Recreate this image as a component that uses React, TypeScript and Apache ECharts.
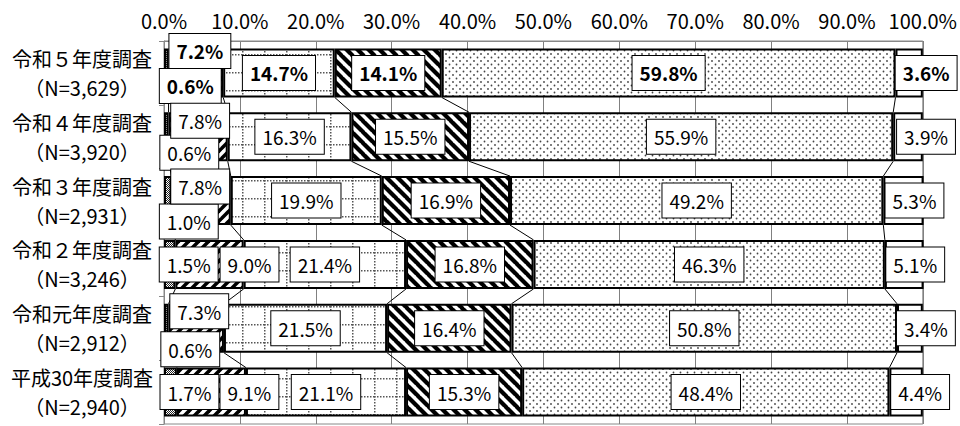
import React, { useEffect, useRef } from 'react';
import * as echarts from 'echarts';

const categories = [
  '令和５年度調査\n（N=3,629）',
  '令和４年度調査\n（N=3,920）',
  '令和３年度調査\n（N=2,931）',
  '令和２年度調査\n（N=3,246）',
  '令和元年度調査\n（N=2,912）',
  '平成30年度調査\n（N=2,940）',
];

const seg1 = [0.6, 0.6, 1.0, 1.5, 0.6, 1.7];
const seg2 = [7.2, 7.8, 7.8, 9.0, 7.3, 9.1];
const seg3 = [14.7, 16.3, 19.9, 21.4, 21.5, 21.1];
const seg4 = [14.1, 15.5, 16.9, 16.8, 16.4, 15.3];
const seg5 = [59.8, 55.9, 49.2, 46.3, 50.8, 48.4];
const seg6 = [3.6, 3.9, 5.3, 5.1, 3.4, 4.4];

const xMin = 0;
const xMax = 100;
const xInterval = 10;

const segments = [seg1, seg2, seg3, seg4, seg5, seg6];

// label placement (style only)
const seg1Offsets = [[24, 13], [23, 16], [21, 21], [19, 0], [24, 21], [19, 0]];
const seg2Offsets = [[4, -22], [2, -16], [-1, -14], [40, 0], [3, -17], [38, 0]];
const seg6Offsets = [[17, 0], [18, 0], [11, 0], [11, 0], [16, 0], [14, 0]];
const zeroOffsets = [[0, 0], [0, 0], [0, 0], [0, 0], [0, 0], [0, 0]];
const labelOffsets = [seg1Offsets, seg2Offsets, zeroOffsets, zeroOffsets, zeroOffsets, seg6Offsets];

const BAR_WIDTH = 49;
const FONT = '"Noto Sans CJK JP", "Noto Sans", sans-serif';

function makeCanvas(w: number, h: number, draw: (ctx: CanvasRenderingContext2D) => void) {
  const c = document.createElement('canvas');
  c.width = w;
  c.height = h;
  const ctx = c.getContext('2d')!;
  ctx.fillStyle = '#fff';
  ctx.fillRect(0, 0, w, h);
  draw(ctx);
  return c;
}

function makePatterns() {
  const p1 = makeCanvas(4, 4, (ctx) => {
    ctx.fillStyle = '#222';
    for (let x = 0; x < 4; x++) for (let y = 0; y < 4; y++) if ((x + y) % 2 === 0) ctx.fillRect(x, y, 1, 1);
  });
  const p2 = makeCanvas(10, 10, (ctx) => {
    ctx.strokeStyle = '#000';
    ctx.lineWidth = 3.6;
    for (const x0 of [-10, 0, 10]) {
      ctx.beginPath();
      ctx.moveTo(x0 - 1, 11);
      ctx.lineTo(x0 + 11, -1);
      ctx.stroke();
    }
  });
  const p3 = makeCanvas(22, 18, (ctx) => {
    ctx.fillStyle = '#555';
    for (let y = 0; y < 18; y += 3) ctx.fillRect(0, y, 1.5, 1.5);
    for (let x = 0; x < 22; x += 3) ctx.fillRect(x, 0, 1.5, 1.5);
  });
  const p4 = makeCanvas(11, 11, (ctx) => {
    ctx.strokeStyle = '#000';
    ctx.lineWidth = 4.2;
    for (const x0 of [-11, 0, 11]) {
      ctx.beginPath();
      ctx.moveTo(x0 - 1, -1);
      ctx.lineTo(x0 + 12, 12);
      ctx.stroke();
    }
  });
  const p5 = makeCanvas(7, 7, (ctx) => {
    ctx.fillStyle = '#444';
    ctx.beginPath();
    ctx.arc(1.5, 1.5, 0.9, 0, Math.PI * 2);
    ctx.fill();
    ctx.beginPath();
    ctx.arc(5, 5, 0.9, 0, Math.PI * 2);
    ctx.fill();
  });
  return [p1, p2, p3, p4, p5, null];
}

function cumulative(row: number) {
  const out: number[] = [];
  let s = 0;
  for (let k = 0; k < segments.length - 1; k++) {
    s += segments[k][row];
    out.push(s);
  }
  return out;
}

export default function App() {
  const ref = useRef<HTMLDivElement>(null);

  useEffect(() => {
    document.body.style.margin = '0';
    const chart = echarts.init(ref.current!, null, { renderer: 'svg' });
    const patterns = makePatterns();

    const barSeries = segments.map((seg, si) => ({
      type: 'bar',
      name: `区分${si + 1}`,
      stack: 'total',
      barWidth: BAR_WIDTH,
      z: 2,
      itemStyle: {
        color: patterns[si] ? { image: patterns[si], repeat: 'repeat' } : '#fff',
        borderColor: '#000',
        borderWidth: 2,
      },
      label: {
        show: true,
        position: 'inside',
        formatter: (p: any) => Number(p.value).toFixed(1) + '%',
        fontFamily: FONT,
        fontSize: 19,
        color: '#000',
        backgroundColor: '#fff',
        borderColor: '#000',
        borderWidth: 1,
        padding: [8, 7, 7, 7],
      },
      data: seg.map((v, r) => ({
        value: v,
        label: { offset: labelOffsets[si][r], fontWeight: r === 0 ? 'bold' : 'normal' },
      })),
    }));

    const connectorSeries = {
      type: 'custom',
      silent: true,
      z: 1,
      encode: { x: 0, y: 1 },
      data: categories.slice(0, categories.length - 1).map((_, i) => [0, i]),
      renderItem: (params: any, api: any) => {
        const i = params.dataIndex;
        const a = cumulative(i);
        const b = cumulative(i + 1);
        const half = BAR_WIDTH / 2;
        return {
          type: 'group',
          children: a.map((va, k) => {
            const p1 = api.coord([va, i]);
            const p2 = api.coord([b[k], i + 1]);
            return {
              type: 'line',
              shape: { x1: p1[0], y1: p1[1] + half, x2: p2[0], y2: p2[1] - half },
              style: { stroke: '#000', lineWidth: 1 },
            };
          }),
        };
      },
    };

    chart.setOption({
      animation: false,
      grid: {
        left: 164,
        right: 32,
        top: 41,
        bottom: 2,
        show: true,
        borderColor: '#888',
        borderWidth: 1,
      },
      xAxis: {
        type: 'value',
        position: 'top',
        min: xMin,
        max: xMax,
        interval: xInterval,
        axisLine: { show: true, lineStyle: { color: '#888' } },
        axisTick: { show: false },
        splitLine: { show: true, lineStyle: { color: '#808080', width: 1 } },
        axisLabel: {
          formatter: (v: number) => v.toFixed(1) + '%',
          fontFamily: FONT,
          fontSize: 20,
          color: '#000',
          margin: 11,
        },
      },
      yAxis: {
        type: 'category',
        inverse: true,
        data: categories,
        axisLine: { show: true, lineStyle: { color: '#888' } },
        axisTick: { show: true, length: 5, lineStyle: { color: '#888' } },
        axisLabel: {
          fontFamily: FONT,
          fontSize: 20,
          lineHeight: 29,
          color: '#000',
          align: 'center',
          margin: 82,
        },
      },
      series: [...barSeries, connectorSeries],
    });

    return () => chart.dispose();
  }, []);

  return (
    <div
      ref={ref}
      style={{ position: 'absolute', left: 0, top: 0, width: 960, height: 426 }}
    />
  );
}
